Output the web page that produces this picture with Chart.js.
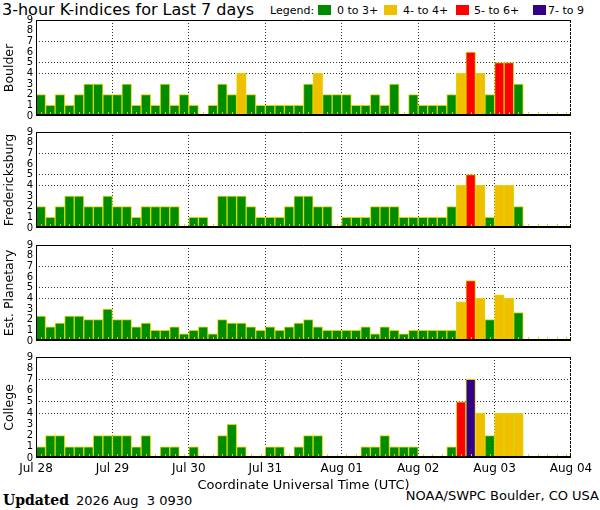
<!DOCTYPE html>
<html><head><meta charset="utf-8">
<script src="https://cdn.jsdelivr.net/npm/chart.js@4.4.1/dist/chart.umd.min.js"></script>
<style>
html,body{margin:0;padding:0;background:#fff;}
body{width:600px;height:510px;position:relative;overflow:hidden;font-family:"DejaVu Sans",sans-serif;color:#000;}
.t{position:absolute;white-space:pre;line-height:1;}
.box{position:absolute;width:13px;height:10px;}
canvas{position:absolute;left:0;}
</style></head><body>
<div class="t" style="left:2px;top:2px;font-size:16px;">3-hour K-indices for Last 7 days</div>
<div id="legend"></div>
<div class="t" style="left:3px;top:493px;font-size:14px;font-family:'DejaVu Serif',serif;font-weight:bold;">Updated</div>
<div class="t" style="left:76px;top:494px;font-size:13px;">2026 Aug  3 0930</div>
<div class="t" style="right:1px;top:489px;font-size:13px;">NOAA/SWPC Boulder, CO USA</div>
<script>
// ---- data (K-index per 3-hour interval, 8 per day, Jul 28 .. Aug 03) ----
const dayLabels = ['Jul 28','Jul 29','Jul 30','Jul 31','Aug 01','Aug 02','Aug 03','Aug 04'];
const hours = ['00','03','06','09','12','15','18','21'];
const boulder = [2,1,2,1,2,3,3,2,2,3, 1,2,1,3,1,2,1,0,1,3, 2,4,2,1,1,1,1,1,3,4, 2,2,2,1,1,2,1,3,0,2, 1,1,1,2,4,6,4,2,5,5, 3,0,0,0,0,0];
const fredericksburg = [2,1,2,3,3,2,2,3,2,2, 1,2,2,2,2,0,1,1,0,3, 3,3,2,1,1,1,2,3,3,2, 2,0,1,1,1,2,2,2,1,1, 1,1,1,2,4,5,4,1,4,4, 2,0,0,0,0,0];
const planetary = [2.33,1.33,1.67,2.33,2.33,2,2,3,2,2, 1.33,1.67,1,1,1.33,0.67,1,1.33,0.67,2, 1.67,1.67,1.33,1,1.33,1,1.33,1.67,2,1.33, 1,1,1,1,1.33,0.67,1.33,1,0.67,1, 1,1,1,1,3.67,5.67,4,2,4.33,4, 2.67,null,null,null,null,null];
const college = [1,2,2,1,1,1,2,2,2,2, 1,2,0,1,1,0,1,0,0,2, 3,1,0,0,1,1,0,1,2,2, 0,0,0,0,1,1,2,1,1,1, 0,0,0,1,5,7,4,2,4,4, 4,0,0,0,0,0];
const panelNames = ['Boulder','Fredericksburg','Est. Planetary','College'];
const panelData = [boulder, fredericksburg, planetary, college];
const legendLabels = ['0 to 3+','4- to 4+','5- to 6+','7- to 9'];
const levelColors = ['#008c00','#f0c000','#ff0000','#330088'];
const levelUpper = [3.5, 4.5, 6.5, 10];

// ---- styling ----
const outline = '#d8d800';
const gridLevels = [4,5,7];
const slotLabels = [];
dayLabels.slice(0,7).forEach(d => hours.forEach(h => slotLabels.push(d + ' ' + h)));
function colorFor(v){
  if (v === null) return 'transparent';
  for (let i=0;i<levelUpper.length;i++) if (v < levelUpper[i]) return levelColors[i];
  return levelColors[levelColors.length-1];
}

// legend
const legendPos = [[318,337],[384,403],[456,474],[533,548]];
const lg = document.getElementById('legend');
let html = '<div class="t" style="left:270px;top:5px;font-size:11px;">Legend:</div>';
legendLabels.forEach((l,i)=>{
  html += '<div class="box" style="left:'+legendPos[i][0]+'px;top:5px;background:'+levelColors[i]+'"></div>';
  html += '<div class="t" style="left:'+legendPos[i][1]+'px;top:5px;font-size:11px;">'+l+'</div>';
});
lg.innerHTML = html;

Chart.defaults.font.family = '"DejaVu Sans", sans-serif';
Chart.defaults.color = '#000';

const framePlugin = {
  id:'frame',
  afterDatasetsDraw(chart){
    const {ctx, chartArea:a} = chart;
    const x = chart.scales.x;
    ctx.save();
    ctx.strokeStyle = outline; ctx.lineWidth = 1;
    ctx.beginPath();
    for (let i=0;i<chart.data.labels.length;i++){
      const px = Math.round(x.getPixelForValue(i)) + 0.5;
      ctx.moveTo(px, a.bottom); ctx.lineTo(px, a.bottom - 4);
    }
    ctx.stroke();
    ctx.strokeStyle = '#000';
    ctx.beginPath();
    ctx.moveTo(a.left, a.top + 0.5); ctx.lineTo(a.right, a.top + 0.5);
    ctx.moveTo(a.left + 0.5, a.top); ctx.lineTo(a.left + 0.5, a.bottom);
    ctx.stroke();
    ctx.setLineDash([3,1]);
    ctx.beginPath();
    ctx.moveTo(a.right - 0.5, a.top); ctx.lineTo(a.right - 0.5, a.bottom);
    ctx.stroke();
    ctx.setLineDash([]);
    ctx.lineWidth = 2;
    ctx.beginPath();
    ctx.moveTo(a.left, a.bottom - 1); ctx.lineTo(a.right, a.bottom - 1);
    ctx.stroke();
    ctx.restore();
  }
};

const panelTops = [19,131,244,356];
const PLOT_H = 102;
panelNames.forEach((name, i) => {
  const last = i === panelNames.length - 1;
  const padTop = 8;
  const xAxisH = last ? 35 : 0;
  const padBottom = last ? 2 : 4;
  const H = padTop + PLOT_H + xAxisH + padBottom;
  const cv = document.createElement('canvas');
  cv.width = 600; cv.height = H;
  cv.style.width = '600px'; cv.style.height = H + 'px';
  cv.style.top = (panelTops[i] - padTop) + 'px';
  document.body.appendChild(cv);
  const values = panelData[i];
  new Chart(cv, {
    type:'bar',
    data:{labels: slotLabels, datasets:[{
      data: values, xAxisID:'x', yAxisID:'y',
      backgroundColor: values.map(colorFor),
      borderColor: outline, borderWidth: 1,
      minBarLength: 2, categoryPercentage: 1, barPercentage: 1
    }]},
    options:{
      responsive:false, animation:false,
      layout:{padding:{top:padTop, right:29, bottom:padBottom, left:0}},
      plugins:{legend:{display:false}, tooltip:{enabled:false}},
      scales:{
        x:{display:false, offset:true},
        x2:{type:'linear', position:'bottom', min:0, max:7, offset:false,
          afterFit(s){ s.height = xAxisH; },
          ticks:{display:last, stepSize:1, autoSkip:false, maxRotation:0, padding:4, font:{size:12},
                 callback: v => dayLabels[v]},
          grid:{offset:false, drawTicks:false, lineWidth:1,
                color: c => (c.tick && c.tick.value > 0 && c.tick.value < 7) ? '#333' : 'rgba(0,0,0,0)'},
          border:{display:false, dash:[1,2]},
          title:{display:last, text:'Coordinate Universal Time (UTC)', font:{size:13}, padding:{top:0,bottom:0}}
        },
        y:{min:0, max:9,
          afterFit(s){ s.width = 36; },
          ticks:{stepSize:1, autoSkip:false, font:{size:10}, padding:3},
          grid:{drawTicks:false, lineWidth:1,
                color: c => (c.tick && gridLevels.includes(c.tick.value)) ? '#333' : 'rgba(0,0,0,0)'},
          border:{display:false, dash:[1,2]},
          title:{display:true, text:name, font:{size:12.5}, padding:{top:2,bottom:0}}
        }
      }
    },
    plugins:[framePlugin]
  });
});
</script>
</body></html>
